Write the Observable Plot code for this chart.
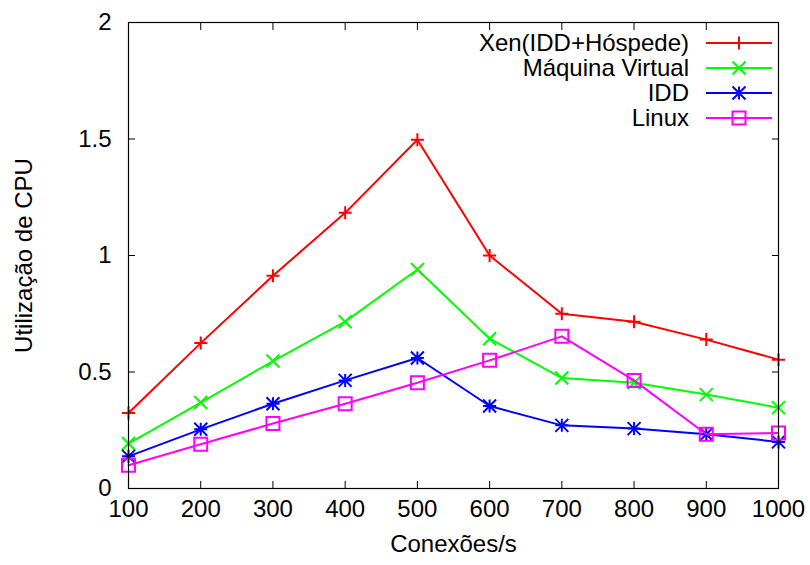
<!DOCTYPE html>
<html>
<head>
<meta charset="utf-8">
<script src="https://cdn.jsdelivr.net/npm/d3@7"></script>
<script src="https://cdn.jsdelivr.net/npm/@observablehq/plot@0.6"></script>
<style>
  html, body { margin: 0; padding: 0; background: white; }
</style>
</head>
<body>
<div id="chart"></div>
<script>
const connections = [100, 200, 300, 400, 500, 600, 700, 800, 900, 1000];
const seriesNames = ["Xen(IDD+Hóspede)", "Máquina Virtual", "IDD", "Linux"];
const xen     = [0.324, 0.624, 0.913, 1.183, 1.497, 1.000, 0.750, 0.716, 0.639, 0.553];
const maquina = [0.193, 0.369, 0.547, 0.716, 0.940, 0.643, 0.474, 0.454, 0.403, 0.347];
const idd     = [0.138, 0.254, 0.364, 0.464, 0.560, 0.354, 0.271, 0.257, 0.233, 0.200];
const linux   = [0.100, 0.190, 0.279, 0.364, 0.454, 0.550, 0.653, 0.464, 0.233, 0.238];
const yTicks = [0, 0.5, 1, 1.5, 2];
const yTickLabels = ["0", "0.5", "1", "1.5", "2"];
const xTitle = "Conexões/s";
const yTitle = "Utilização de CPU";
const colors = ["#ff0000", "#00ff00", "#0000ff", "#ff00ff"];

const allValues = [xen, maquina, idd, linux];

const R = 6.5;
const plusSym = {draw(ctx, size) { const r = Math.sqrt(size / Math.PI); ctx.moveTo(-r, 0); ctx.lineTo(r, 0); ctx.moveTo(0, -r); ctx.lineTo(0, r); }};
const timesSym = {draw(ctx, size) { const r = Math.sqrt(size / Math.PI); ctx.moveTo(-r, -r); ctx.lineTo(r, r); ctx.moveTo(-r, r); ctx.lineTo(r, -r); }};
const starSym = {draw(ctx, size) { const r = Math.sqrt(size / Math.PI); ctx.moveTo(-r, 0); ctx.lineTo(r, 0); ctx.moveTo(0, -r); ctx.lineTo(0, r); ctx.moveTo(-r, -r); ctx.lineTo(r, r); ctx.moveTo(-r, r); ctx.lineTo(r, -r); }};
const squareSym = {draw(ctx, size) { const r = Math.sqrt(size / Math.PI); ctx.moveTo(-r, -r); ctx.lineTo(r, -r); ctx.lineTo(r, r); ctx.lineTo(-r, r); ctx.closePath(); }};
const symbols = [plusSym, timesSym, starSym, squareSym];

const data = [];
seriesNames.forEach((s, si) => {
  connections.forEach((c, i) => data.push({series: s, si, x: c, y: allValues[si][i]}));
});

const seriesMarks = [];
seriesNames.forEach((s, si) => {
  const d = data.filter(e => e.si === si);
  seriesMarks.push(Plot.line(d, {x: "x", y: "y", stroke: colors[si], strokeWidth: 2}));
  seriesMarks.push(Plot.dot(d, {x: "x", y: "y", stroke: colors[si], fill: "none", strokeWidth: 2, r: R, symbol: symbols[si]}));
});

const chart = Plot.plot({
  width: 810,
  height: 565,
  marginLeft: 128,
  marginRight: 32,
  marginTop: 22,
  marginBottom: 77,
  style: {fontFamily: "'Liberation Sans', Arial, sans-serif", fontSize: "24px", background: "white", color: "black"},
  x: {domain: [100, 1000]},
  y: {domain: [0, 2]},
  marks: [
    ...seriesMarks,
    Plot.frame({stroke: "black", strokeWidth: 1.2}),
    Plot.axisX({anchor: "bottom", ticks: connections, tickSize: -7, tickPadding: 18, label: null, tickFormat: d => String(d), fontSize: 24}),
    Plot.axisX({anchor: "top", ticks: connections, tickSize: -7, label: null, tickFormat: () => ""}),
    Plot.axisY({anchor: "left", ticks: yTicks, tickSize: -7, tickPadding: 24, label: null, tickFormat: d => yTickLabels[yTicks.indexOf(d)], fontSize: 24}),
    Plot.axisY({anchor: "right", ticks: yTicks, tickSize: -7, label: null, tickFormat: () => ""}),
    Plot.text([xTitle], {frameAnchor: "bottom", dy: 63, text: d => d, fontSize: 24, fill: "black"}),
    Plot.text([yTitle], {frameAnchor: "left", dx: -104, rotate: -90, textAnchor: "middle", text: d => d, fontSize: 24, fill: "black"})
  ]
});

document.getElementById("chart").appendChild(chart);

// Legend (inside top-right of the plot area)
const svg = d3.select(chart);
const lg = svg.append("g").attr("font-family", "'Liberation Sans', Arial, sans-serif").attr("font-size", 24);
const legendTop = 43, legendStep = 25, textRight = 689, lineX1 = 706, lineX2 = 772;
seriesNames.forEach((s, si) => {
  const yy = legendTop + si * legendStep;
  lg.append("text").attr("x", textRight).attr("y", yy).attr("dy", "0.35em").attr("text-anchor", "end").attr("fill", "black").text(s);
  lg.append("line").attr("x1", lineX1).attr("x2", lineX2).attr("y1", yy).attr("y2", yy).attr("stroke", colors[si]).attr("stroke-width", 2);
  lg.append("path").attr("transform", `translate(${(lineX1 + lineX2) / 2},${yy})`)
    .attr("d", d3.symbol().type(symbols[si]).size(Math.PI * R * R)())
    .attr("fill", "none").attr("stroke", colors[si]).attr("stroke-width", 2);
});
</script>
</body>
</html>
